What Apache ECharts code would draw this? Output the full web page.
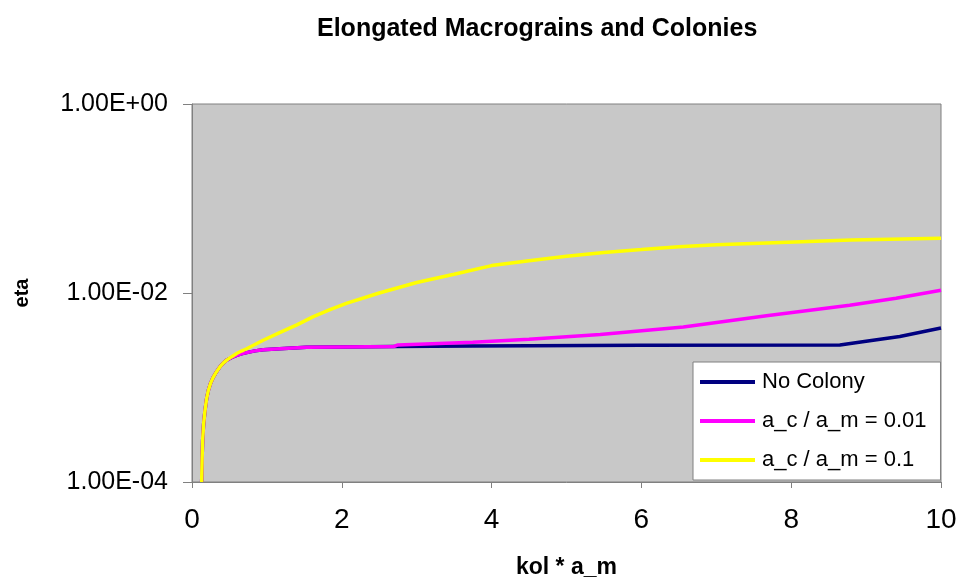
<!DOCTYPE html>
<html>
<head>
<meta charset="utf-8">
<script src="https://cdn.jsdelivr.net/npm/echarts@6/dist/echarts.min.js"></script>
<style>
  html, body { margin: 0; padding: 0; background: #ffffff; }
  #chart { width: 958px; height: 580px; }
</style>
</head>
<body>
<div id="chart"></div>
<script>
// Elongated macrograins and colonies: eta versus kol * a_m
const chartTitle = 'Elongated Macrograins and Colonies';
const xName = 'kol * a_m';
const yName = 'eta';
const seriesNames = ['No Colony', 'a_c / a_m = 0.01', 'a_c / a_m = 0.1'];
const xTicks = [0, 2, 4, 6, 8, 10];

// No Colony
const noColonyX = [0.129, 0.135, 0.142, 0.155, 0.174, 0.195, 0.218, 0.25, 0.285, 0.33, 0.374, 0.42, 0.463, 0.53, 0.596, 0.66, 0.73, 0.84, 0.95, 1.17, 1.53, 2.0, 2.7, 3.75, 6.0, 8.65, 9.0, 9.45, 10];
const noColonyY = [1.0e-4, 1.8e-4, 2.75e-4, 4.1e-4, 5.75e-4, 7.6e-4, 9.3e-4, 1.12e-3, 1.29e-3, 1.48e-3, 1.66e-3, 1.82e-3, 1.95e-3, 2.08e-3, 2.19e-3, 2.27e-3, 2.34e-3, 2.44e-3, 2.51e-3, 2.57e-3, 2.66e-3, 2.69e-3, 2.72e-3, 2.75e-3, 2.80e-3, 2.82e-3, 3.09e-3, 3.47e-3, 4.27e-3];

// a_c / a_m = 0.01
const colony001X = [0.129, 0.135, 0.142, 0.155, 0.174, 0.195, 0.218, 0.25, 0.285, 0.33, 0.374, 0.42, 0.463, 0.53, 0.596, 0.66, 0.73, 0.84, 0.95, 1.17, 1.53, 2.0, 2.7, 2.75, 3.75, 4.5, 5.45, 6.56, 7.67, 8.78, 9.4, 10];
const colony001Y = [1.0e-4, 1.8e-4, 2.75e-4, 4.1e-4, 5.75e-4, 7.6e-4, 9.3e-4, 1.12e-3, 1.29e-3, 1.48e-3, 1.66e-3, 1.82e-3, 1.95e-3, 2.08e-3, 2.19e-3, 2.27e-3, 2.34e-3, 2.44e-3, 2.51e-3, 2.57e-3, 2.66e-3, 2.69e-3, 2.72e-3, 2.82e-3, 3.02e-3, 3.24e-3, 3.63e-3, 4.37e-3, 5.75e-3, 7.41e-3, 8.8e-3, 1.07e-2];

// a_c / a_m = 0.1
const colony01X = [0.129, 0.135, 0.142, 0.155, 0.174, 0.195, 0.218, 0.25, 0.285, 0.33, 0.374, 0.42, 0.463, 0.53, 0.596, 0.66, 0.73, 0.84, 0.95, 1.17, 1.4, 1.62, 1.85, 2.07, 2.5, 3.0, 3.5, 4.0, 4.5, 5.0, 5.5, 6.0, 6.5, 7.0, 7.67, 8.8, 10];
const colony01Y = [1.0e-4, 1.8e-4, 2.75e-4, 4.1e-4, 5.75e-4, 7.6e-4, 9.3e-4, 1.12e-3, 1.29e-3, 1.48e-3, 1.66e-3, 1.82e-3, 1.95e-3, 2.12e-3, 2.29e-3, 2.43e-3, 2.57e-3, 2.85e-3, 3.16e-3, 3.80e-3, 4.6e-3, 5.62e-3, 6.7e-3, 7.8e-3, 1.0e-2, 1.29e-2, 1.58e-2, 1.95e-2, 2.19e-2, 2.45e-2, 2.69e-2, 2.88e-2, 3.09e-2, 3.24e-2, 3.39e-2, 3.63e-2, 3.80e-2];

const seriesColors = ['#000080', '#ff00ff', '#ffff00'];

function pairs(xs, ys) {
  return xs.map((x, i) => [x, ys[i]]);
}

function sciLabel(v) {
  const e = Math.round(Math.log10(v));
  const m = v / Math.pow(10, e);
  const ae = Math.abs(e);
  return m.toFixed(2) + 'E' + (e < 0 ? '-' : '+') + (ae < 10 ? '0' : '') + ae;
}

const font = 'Arial, "Liberation Sans", sans-serif';
const titleFont = 'bold 25px ' + font;
const titleCenterX = 537;

// centre the title over its own x position
const measureCtx = document.createElement('canvas').getContext('2d');
measureCtx.font = titleFont;
const titleWidth = measureCtx.measureText(chartTitle).width;

const chart = echarts.init(document.getElementById('chart'), null, { renderer: 'canvas' });

const lineData = [
  pairs(noColonyX, noColonyY),
  pairs(colony001X, colony001Y),
  pairs(colony01X, colony01Y)
];

chart.setOption({
  animation: false,
  backgroundColor: '#ffffff',
  title: {
    text: chartTitle,
    left: Math.round(titleCenterX - titleWidth / 2),
    top: 17,
    padding: 0,
    textStyle: { fontFamily: font, fontSize: 25, fontWeight: 'bold', color: '#000000' }
  },
  grid: {
    left: 192, right: 17, top: 104, bottom: 98,
    outerBoundsMode: 'none',
    containLabel: false,
    show: true,
    backgroundColor: '#c8c8c8',
    borderColor: '#808080',
    borderWidth: 1
  },
  legend: {
    orient: 'vertical',
    left: 693,
    top: 362,
    backgroundColor: '#ffffff',
    borderColor: '#808080',
    borderWidth: 1,
    borderRadius: 0,
    padding: [9, 14, 9, 7],
    itemGap: 17,
    itemWidth: 55,
    itemHeight: 4,
    icon: 'rect',
    textStyle: { fontFamily: font, fontSize: 22, color: '#000000', lineHeight: 22, padding: [0, 0, 0, 2] },
    data: seriesNames
  },
  xAxis: {
    type: 'value',
    min: 0,
    max: 10,
    interval: 2,
    name: xName,
    nameLocation: 'middle',
    nameGap: 74,
    nameTextStyle: { fontFamily: font, fontSize: 23, fontWeight: 'bold', color: '#000000' },
    axisLine: { show: true, lineStyle: { color: '#808080', width: 1 } },
    axisTick: { show: true, inside: false, length: 6, lineStyle: { color: '#808080' } },
    axisLabel: { fontFamily: font, fontSize: 28, color: '#000000', margin: 24,
      formatter: v => (xTicks.indexOf(v) >= 0 ? String(v) : '') },
    splitLine: { show: false }
  },
  yAxis: {
    type: 'log',
    logBase: 100,
    min: 1e-4,
    max: 1,
    name: yName,
    nameLocation: 'middle',
    nameRotate: 90,
    nameGap: 160,
    nameTextStyle: { fontFamily: font, fontSize: 20, fontWeight: 'bold', color: '#000000' },
    axisLine: { show: true, lineStyle: { color: '#808080', width: 1 } },
    axisTick: { show: true, inside: false, length: 9, lineStyle: { color: '#808080' } },
    axisLabel: { fontFamily: font, fontSize: 25, color: '#000000', margin: 24, formatter: sciLabel },
    splitLine: { show: false },
    minorTick: { show: false }
  },
  series: seriesNames.map((name, i) => ({
    name: name,
    type: 'line',
    data: lineData[i],
    showSymbol: false,
    symbol: 'none',
    smooth: false,
    lineStyle: { color: seriesColors[i], width: 3.5 },
    itemStyle: { color: seriesColors[i] },
    z: 2 + i
  }))
});
</script>
</body>
</html>
